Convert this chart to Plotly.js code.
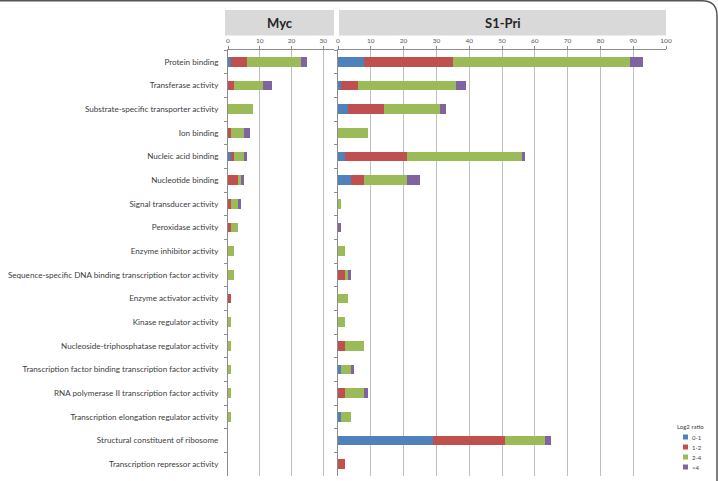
<!DOCTYPE html>
<html>
<head>
<meta charset="utf-8">
<script src="https://cdn.plot.ly/plotly-3.0.1.min.js"></script>
<style>
  html, body { margin: 0; padding: 0; background: #ffffff; }
  #chart { width: 718px; height: 481px; }
</style>
</head>
<body>
<div id="chart"></div>
<script>
// GO molecular-function categories, top to bottom
const categories = [
  "Protein binding",
  "Transferase activity",
  "Substrate-specific transporter activity",
  "Ion binding",
  "Nucleic acid binding",
  "Nucleotide binding",
  "Signal transducer activity",
  "Peroxidase activity",
  "Enzyme inhibitor activity",
  "Sequence-specific DNA binding transcription factor activity",
  "Enzyme activator activity",
  "Kinase regulator activity",
  "Nucleoside-triphosphatase regulator activity",
  "Transcription factor binding transcription factor activity",
  "RNA polymerase II transcription factor activity",
  "Transcription elongation regulator activity",
  "Structural constituent of ribosome",
  "Transcription repressor activity"
];

// Log2 ratio classes
const ratioClasses = ["0-1", "1-2", "2-4", ">4"];

// Myc: gene counts per class
const myc_0_1 = [1, 0, 0, 0, 1, 0, 0, 0, 0, 0, 0, 0, 0, 0, 0, 0, 0, 0];
const myc_1_2 = [5, 2, 0, 1, 1, 3, 1, 1, 0, 0, 1, 0, 0, 0, 0, 0, 0, 0];
const myc_2_4 = [17, 9, 8, 4, 3, 1, 2, 2, 2, 2, 0, 1, 1, 1, 1, 1, 0, 0];
const myc_gt4 = [2, 3, 0, 2, 1, 1, 1, 0, 0, 0, 0, 0, 0, 0, 0, 0, 0, 0];

// S1-Pri: gene counts per class
const s1_0_1 = [8, 1, 3, 0, 2, 4, 0, 0, 0, 0, 0, 0, 0, 1, 0, 1, 29, 0];
const s1_1_2 = [27, 5, 11, 0, 19, 4, 0, 0, 0, 2, 0, 0, 2, 0, 2, 0, 22, 2];
const s1_2_4 = [54, 30, 17, 9, 35, 13, 1, 0, 2, 1, 3, 2, 6, 3, 6, 3, 12, 0];
const s1_gt4 = [4, 3, 2, 0, 1, 4, 0, 1, 0, 1, 0, 0, 0, 1, 1, 0, 2, 0];

const classColors = ["#4F81BD", "#C0504D", "#9BBB59", "#8064A2"];

const mycSeries = [myc_0_1, myc_1_2, myc_2_4, myc_gt4];
const s1Series = [s1_0_1, s1_1_2, s1_2_4, s1_gt4];

const traces = [];
mycSeries.forEach((vals, i) => {
  traces.push({
    type: "bar", orientation: "h",
    x: vals, y: categories,
    xaxis: "x", yaxis: "y",
    name: ratioClasses[i],
    marker: { color: classColors[i] },
    hoverinfo: "x+y+name"
  });
});
s1Series.forEach((vals, i) => {
  traces.push({
    type: "bar", orientation: "h",
    x: vals, y: categories,
    xaxis: "x2", yaxis: "y2",
    name: ratioClasses[i],
    marker: { color: classColors[i] },
    hoverinfo: "x+y+name"
  });
});

// plot area in pixels: left 228, right 666, top 50, bottom 476
const L = 228, R = 666, T = 50, B = 476;
const W = R - L, H = B - T;
const px = v => (v - L) / W;
const py = v => (B - v) / H;

const fontFamily = "Lato, 'Open Sans', sans-serif";
const tickFont = { family: fontFamily, size: 6.5, color: "#595959" };
const gridColor = "#c0c0c0";
const lineColor = "#8c8c8c";

const xCommon = {
  side: "top",
  showgrid: true, gridcolor: gridColor, gridwidth: 1,
  zeroline: false,
  showline: true, linecolor: lineColor, linewidth: 1,
  ticks: "outside", ticklen: 3, tickcolor: lineColor,
  tickfont: tickFont,
  dtick: 10, tick0: 0,
  fixedrange: true
};

const yCommon = {
  type: "category",
  range: [categories.length - 0.5, -0.5],
  showgrid: false, zeroline: false,
  showline: true, linecolor: lineColor, linewidth: 1,
  ticks: "outside", ticklen: 3, tickcolor: lineColor,
  tickson: "boundaries",
  fixedrange: true
};

// hand-placed legend block (swatch + label per class)
const legendShapes = [];
const legendNotes = [
  { text: "Log2 ratio", xref: "paper", yref: "paper",
    x: px(675), y: py(426), xanchor: "left", yanchor: "middle",
    showarrow: false, font: { size: 6, color: "#404040", family: fontFamily } }
];
ratioClasses.forEach((name, i) => {
  const cy = 437 + i * 10;
  legendShapes.push({
    type: "rect", xref: "paper", yref: "paper",
    x0: px(683), x1: px(688), y0: py(cy + 2.5), y1: py(cy - 2.5),
    fillcolor: classColors[i], line: { width: 0 }
  });
  legendNotes.push({
    text: name, xref: "paper", yref: "paper",
    x: px(690), y: py(cy), xanchor: "left", yanchor: "middle",
    showarrow: false, font: { size: 6, color: "#404040", family: fontFamily }
  });
});

const layout = {
  width: 718, height: 481,
  margin: { l: L, r: 718 - R, t: T, b: 481 - B, pad: 0 },
  paper_bgcolor: "#ffffff",
  plot_bgcolor: "#ffffff",
  barmode: "stack",
  bargap: 0.58,
  showlegend: false,
  font: { family: fontFamily, color: "#404040" },
  xaxis: Object.assign({}, xCommon, {
    domain: [0, px(334)], range: [0, 33.4], anchor: "y"
  }),
  xaxis2: Object.assign({}, xCommon, {
    domain: [px(338), 1], range: [0, 100], anchor: "y2"
  }),
  yaxis: Object.assign({}, yCommon, {
    anchor: "x",
    tickfont: { family: fontFamily, size: 8.1, color: "#404040" },
    ticklabelstandoff: 7
  }),
  yaxis2: Object.assign({}, yCommon, {
    anchor: "x2", matches: "y", showticklabels: false
  }),
  shapes: [
    // panel header strips
    { type: "rect", xref: "paper", yref: "paper",
      x0: px(225), x1: px(334), y0: py(35.5), y1: py(10),
      fillcolor: "#d9d9d9", line: { width: 0 }, layer: "below" },
    { type: "rect", xref: "paper", yref: "paper",
      x0: px(339), x1: px(666), y0: py(35.5), y1: py(10),
      fillcolor: "#d9d9d9", line: { width: 0 }, layer: "below" },
    // rounded outer frame (top and right edges)
    { type: "path", xref: "paper", yref: "paper",
      path: "M " + px(717) + "," + py(481) +
            " L " + px(717) + "," + py(16) +
            " Q " + px(717) + "," + py(0.8) + " " + px(702) + "," + py(0.8) +
            " L " + px(-2) + "," + py(0.8),
      line: { color: "#555555", width: 1.5 } }
  ].concat(legendShapes),
  annotations: [
    { text: "<b>Myc</b>", xref: "paper", yref: "paper",
      x: px(279.5), y: py(23), xanchor: "center", yanchor: "middle",
      showarrow: false, font: { size: 13, color: "#262626", family: fontFamily } },
    { text: "<b>S1-Pri</b>", xref: "paper", yref: "paper",
      x: px(502.5), y: py(23), xanchor: "center", yanchor: "middle",
      showarrow: false, font: { size: 13, color: "#262626", family: fontFamily } }
  ].concat(legendNotes)
};

Plotly.newPlot("chart", traces, layout, { displayModeBar: false, staticPlot: true });
</script>
</body>
</html>
